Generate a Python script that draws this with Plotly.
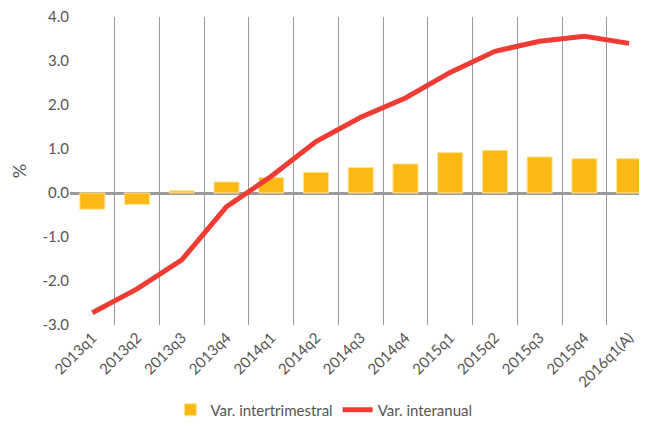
import plotly.graph_objects as go

quarters = ['2013q1', '2013q2', '2013q3', '2013q4', '2014q1', '2014q2', '2014q3',
            '2014q4', '2015q1', '2015q2', '2015q3', '2015q4', '2016q1(A)']
intertrimestral = [-0.37, -0.26, 0.05, 0.25, 0.35, 0.47, 0.58, 0.66, 0.92, 0.97, 0.82, 0.78, 0.78]
interanual = [-2.72, -2.18, -1.52, -0.31, 0.38, 1.17, 1.72, 2.16, 2.74, 3.22, 3.45, 3.56, 3.40]

y_ticks = [-3, -2, -1, 0, 1, 2, 3, 4]
y_labels = ['-3.0', '-2.0', '-1.0', '0.0', '1.0', '2.0', '3.0', '4.0']

fig = go.Figure()

fig.add_trace(go.Bar(x=quarters, y=intertrimestral, name='Var. intertrimestral',
                     width=0.56,
                     marker=dict(color='#FDB913', line=dict(color='#FEE39A', width=1))))

fig.add_trace(go.Scatter(x=quarters, y=interanual, name='Var. interanual',
                         mode='lines', line=dict(color='#EE3B33', width=5)))

# the page body has an 8px margin, so the figure is sized to fit the window
fig.update_layout(
    width=639, height=420,
    margin=dict(l=62, r=0, t=9, b=103),
    plot_bgcolor='white', paper_bgcolor='white',
    font=dict(family='Lato', size=15, color='#555555'),
    showlegend=True,
    legend=dict(orientation='h', x=0.44, xanchor='center', y=-0.276, yanchor='middle',
                font=dict(size=15, color='#555555'), itemwidth=30),
    xaxis=dict(type='category', range=[-0.5, 12.4], tickson='boundaries',
               showgrid=True, gridcolor='#9A9A9A', gridwidth=1.2, automargin=False,
               ticks='', tickangle=-45, showline=False, zeroline=False),
    yaxis=dict(range=[-3, 4], tickvals=y_ticks, ticktext=y_labels, automargin=False,
               ticklabeloverflow='allow',
               showgrid=False, zeroline=True, zerolinecolor='#9A9A9A', zerolinewidth=3,
               showline=False, ticks='', ticklen=0,
               title=dict(text='%', standoff=14)),
)

fig.write_html("out.html")
